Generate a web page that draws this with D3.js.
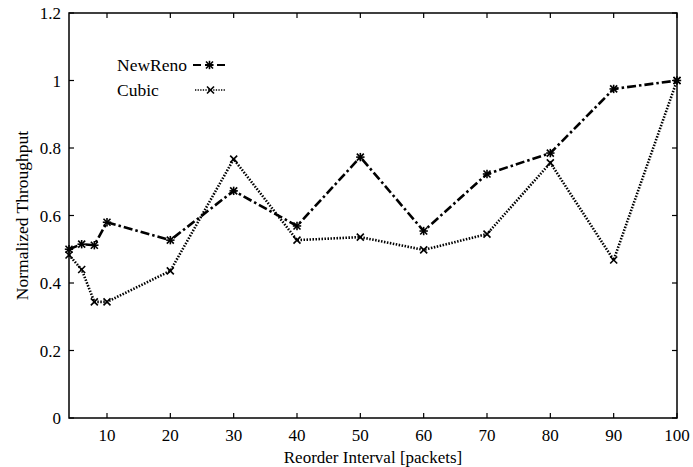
<!DOCTYPE html>
<html>
<head>
<meta charset="utf-8">
<script src="https://cdn.jsdelivr.net/npm/d3@7"></script>
<style>
  body { margin: 0; background: #fff; }
  svg text { font-family: 'Liberation Serif', 'Times New Roman', Times, serif; }
</style>
</head>
<body>
<div id="chart"></div>
<script>
// reorder interval values (packets)
var intervals = [4, 6, 8, 10, 20, 30, 40, 50, 60, 70, 80, 90, 100];
// normalized throughput
var newReno = [0.50, 0.515, 0.512, 0.58, 0.527, 0.673, 0.569, 0.773, 0.554, 0.723, 0.785, 0.975, 1.0];
var cubic   = [0.483, 0.44, 0.344, 0.344, 0.436, 0.767, 0.527, 0.536, 0.498, 0.545, 0.756, 0.468, 1.0];

var xTicks = [10, 20, 30, 40, 50, 60, 70, 80, 90, 100];
var yTicks = [0, 0.2, 0.4, 0.6, 0.8, 1, 1.2];

var width = 693, height = 467;
var margin = {top: 13, right: 16, bottom: 49, left: 69};
var serif = "'Liberation Serif', 'Times New Roman', Times, serif";

var svg = d3.select("#chart").append("svg")
    .attr("width", width)
    .attr("height", height)
    .attr("font-family", serif);

var x = d3.scaleLinear().domain([4, 100]).range([margin.left, width - margin.right]);
var y = d3.scaleLinear().domain([0, 1.2]).range([height - margin.bottom, margin.top]);

// frame
svg.append("rect")
    .attr("x", x(4)).attr("y", y(1.2))
    .attr("width", x(100) - x(4)).attr("height", y(0) - y(1.2))
    .attr("fill", "none").attr("stroke", "#000").attr("stroke-width", 1.5);

// inward ticks, mirrored on the opposite side like gnuplot
var tl = 5;
var g = svg.append("g").attr("stroke", "#000").attr("stroke-width", 1.2);
xTicks.forEach(function(t) {
  g.append("line").attr("x1", x(t)).attr("x2", x(t)).attr("y1", y(0)).attr("y2", y(0) - tl);
  g.append("line").attr("x1", x(t)).attr("x2", x(t)).attr("y1", y(1.2)).attr("y2", y(1.2) + tl);
});
yTicks.forEach(function(t) {
  g.append("line").attr("x1", x(4)).attr("x2", x(4) + tl).attr("y1", y(t)).attr("y2", y(t));
  g.append("line").attr("x1", x(100)).attr("x2", x(100) - tl).attr("y1", y(t)).attr("y2", y(t));
});

// tick labels
svg.append("g").selectAll("text").data(xTicks).enter().append("text")
    .attr("x", function(d) { return x(d); })
    .attr("y", y(0) + 23)
    .attr("text-anchor", "middle")
    .attr("font-family", serif)
    .attr("font-size", 17)
    .text(function(d) { return d; });

svg.append("g").selectAll("text").data(yTicks).enter().append("text")
    .attr("x", x(4) - 8)
    .attr("y", function(d) { return y(d) + 6; })
    .attr("text-anchor", "end")
    .attr("font-family", serif)
    .attr("font-size", 17)
    .text(function(d) { return d; });

// axis titles
svg.append("text")
    .attr("x", (x(4) + x(100)) / 2).attr("y", height - 4)
    .attr("text-anchor", "middle").attr("font-size", 17)
    .attr("font-family", serif)
    .text("Reorder Interval [packets]");

svg.append("text")
    .attr("transform", "translate(28," + ((y(0) + y(1.2)) / 2) + ") rotate(-90)")
    .attr("text-anchor", "middle").attr("font-size", 17.5)
    .attr("font-family", serif)
    .text("Normalized Throughput");

// lines
var line = d3.line()
    .x(function(d, i) { return x(intervals[i]); })
    .y(function(d) { return y(d); });

var series = [
  {name: "NewReno", values: newReno, dash: "9,3,2.5,3", marker: "star"},
  {name: "Cubic", values: cubic, dash: "1.5,1.5", marker: "cross"}
];

function drawMarker(sel, type, cx, cy) {
  var s = 3.5;
  sel.append("line").attr("x1", cx - s).attr("y1", cy - s).attr("x2", cx + s).attr("y2", cy + s);
  sel.append("line").attr("x1", cx - s).attr("y1", cy + s).attr("x2", cx + s).attr("y2", cy - s);
  if (type == "star") {
    sel.append("line").attr("x1", cx - s * 1.2).attr("y1", cy).attr("x2", cx + s * 1.2).attr("y2", cy);
    sel.append("line").attr("x1", cx).attr("y1", cy - s * 1.2).attr("x2", cx).attr("y2", cy + s * 1.2);
  }
}

series.forEach(function(s) {
  svg.append("path")
      .attr("d", line(s.values))
      .attr("fill", "none")
      .attr("stroke", "#000")
      .attr("stroke-width", 2.6)
      .attr("stroke-dasharray", s.dash);
  var mg = svg.append("g").attr("stroke", "#000").attr("stroke-width", 1.6);
  s.values.forEach(function(v, i) {
    drawMarker(mg, s.marker, x(intervals[i]), y(v));
  });
});

// legend
var legend = [
  {name: "NewReno", y: 65, x1: 193, x2: 226},
  {name: "Cubic", y: 90, x1: 195, x2: 226}
];
legend.forEach(function(l, i) {
  var s = series[i];
  svg.append("text")
      .attr("x", 117).attr("y", l.y + 6)
      .attr("font-size", 17.5)
      .attr("font-family", serif)
      .text(l.name);
  svg.append("line")
      .attr("x1", l.x1).attr("x2", l.x2).attr("y1", l.y).attr("y2", l.y)
      .attr("stroke", "#000").attr("stroke-width", i == 0 ? 2.2 : 1.4)
      .attr("stroke-dasharray", i == 0 ? "8,4" : "1.3,1.3");
  var mg = svg.append("g").attr("stroke", "#000").attr("stroke-width", 1.6);
  drawMarker(mg, s.marker, (l.x1 + l.x2) / 2, l.y);
});
</script>
</body>
</html>
